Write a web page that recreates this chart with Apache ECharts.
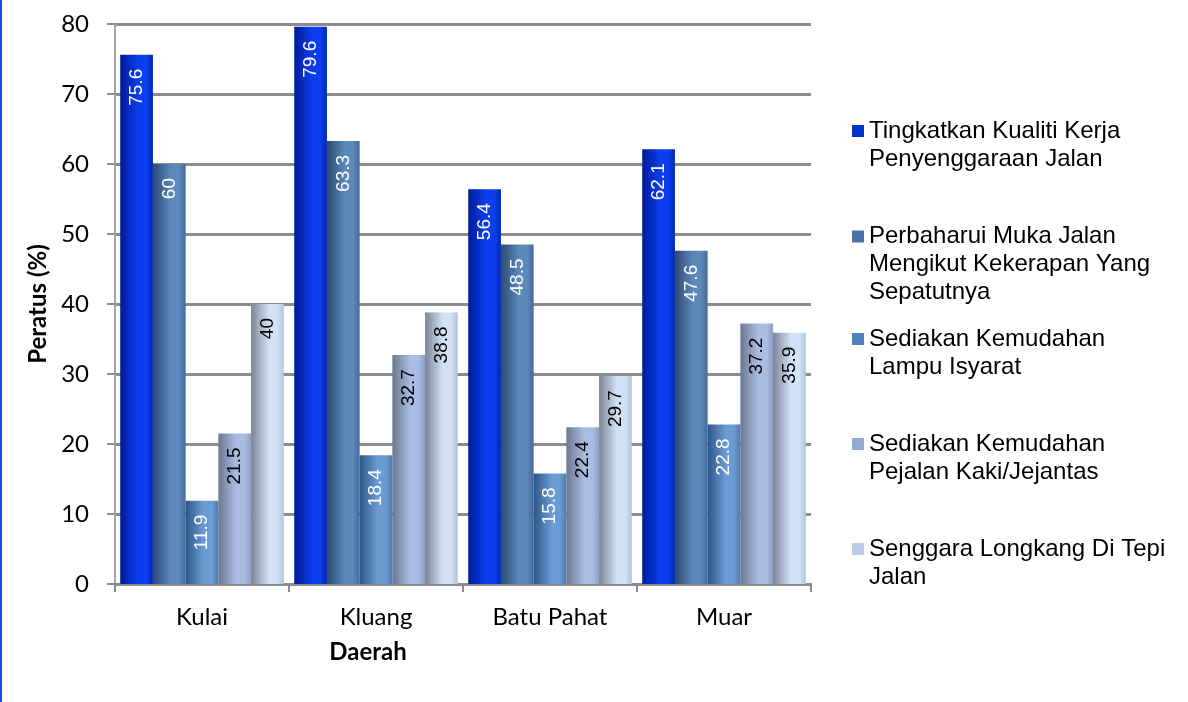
<!DOCTYPE html>
<html>
<head>
<meta charset="utf-8">
<script src="https://cdn.jsdelivr.net/npm/echarts@6/dist/echarts.min.js"></script>
<style>
  html, body { margin: 0; padding: 0; background: #fff; }
  #chart { width: 1188px; height: 702px; box-sizing: border-box; border-left: 2px solid #1f4fe0; }
</style>
</head>
<body>
<div id="chart"></div>
<script>
// data
const daerah = ["Kulai", "Kluang", "Batu Pahat", "Muar"];
const namaSiri = [
  "Tingkatkan Kualiti Kerja\nPenyenggaraan Jalan",
  "Perbaharui Muka Jalan\nMengikut Kekerapan Yang\nSepatutnya",
  "Sediakan Kemudahan\nLampu Isyarat",
  "Sediakan Kemudahan\nPejalan Kaki/Jejantas",
  "Senggara Longkang Di Tepi\nJalan"
];
const kualitiKerja = [75.6, 79.6, 56.4, 62.1];
const mukaJalan = [60, 63.3, 48.5, 47.6];
const lampuIsyarat = [11.9, 18.4, 15.8, 22.8];
const pejalanKaki = [21.5, 32.7, 22.4, 37.2];
const longkang = [40, 38.8, 29.7, 35.9];
const yTicks = [0, 10, 20, 30, 40, 50, 60, 70, 80];

const siriData = [kualitiKerja, mukaJalan, lampuIsyarat, pejalanKaki, longkang];

// warna: [legend, tepi kiri, tengah, tepi kanan]
const warna = [
  ["#0033cc", "#001c95", "#0c3ef0", "#0026b0"],
  ["#4a72a6", "#2a4a72", "#5c88ba", "#44699a"],
  ["#4f81bd", "#2c5688", "#6b9bd3", "#4d7cb3"],
  ["#96a9d0", "#6c7890", "#a9bde2", "#8e9fc2"],
  ["#b9cde5", "#7c8496", "#d2e2f6", "#b0c3dc"]
];
const warnaLabel = ["#fff", "#fff", "#fff", "#000", "#000"];

const fontArial = "'Liberation Sans', Arial, sans-serif";
const fontPaksi = "Lato, sans-serif";

const chart = echarts.init(document.getElementById("chart"));

const series = siriData.map((d, i) => ({
  name: namaSiri[i],
  type: "bar",
  data: d,
  barGap: "0%",
  barCategoryGap: "6%",
  itemStyle: {
    color: new echarts.graphic.LinearGradient(0, 0, 1, 0, [
      { offset: 0, color: warna[i][1] },
      { offset: 0.55, color: warna[i][2] },
      { offset: 0.8, color: warna[i][2] },
      { offset: 1, color: warna[i][3] }
    ])
  },
  label: {
    show: true,
    position: "insideTop",
    rotate: 90,
    align: "right",
    verticalAlign: "middle",
    distance: 14,
    color: warnaLabel[i],
    fontFamily: fontArial,
    fontSize: 19
  }
}));

// satu legend untuk setiap siri; baris kosong di atas supaya ikon sejajar baris pertama
const lh = 28;
const pusatIkon = [131, 236.5, 339, 444, 549];
const legends = namaSiri.map((n, i) => {
  const baris = n.split("\n").length;
  const H = (2 * baris - 1) * lh;
  return {
    data: [{ name: n, icon: "rect", itemStyle: { color: warna[i][0] } }],
    orient: "vertical",
    left: 850,
    top: pusatIkon[i] - H / 2,
    padding: 0,
    itemWidth: 12,
    itemHeight: 12,
    itemGap: 0,
    selectedMode: false,
    formatter: (name) => "\n".repeat(baris - 1) + name,
    textStyle: {
      fontFamily: fontArial,
      fontSize: 24,
      color: "#000",
      lineHeight: lh
    }
  };
});

const option = {
  animation: false,
  grid: { left: 113, right: 377, top: 24, bottom: 118, containLabel: false },
  legend: legends,
  xAxis: {
    type: "category",
    data: daerah,
    name: "Daerah",
    nameLocation: "middle",
    nameGap: 56,
    nameTextStyle: {
      fontFamily: fontPaksi,
      fontWeight: "bold",
      fontSize: 24,
      color: "#000",
      padding: [0, 190, 0, 0]
    },
    axisLine: { lineStyle: { color: "#8c8c8c", width: 2 } },
    axisTick: { show: true, length: 8, lineStyle: { color: "#8c8c8c", width: 2 } },
    axisLabel: {
      fontFamily: fontPaksi,
      fontSize: 24,
      color: "#000",
      margin: 21
    }
  },
  yAxis: {
    type: "value",
    min: yTicks[0],
    max: yTicks[yTicks.length - 1],
    interval: 10,
    name: "Peratus (%)",
    nameLocation: "middle",
    nameGap: 57,
    nameTextStyle: {
      fontFamily: fontPaksi,
      fontWeight: "bold",
      fontSize: 24,
      color: "#000"
    },
    axisLine: { show: true, lineStyle: { color: "#a6a6a6", width: 2 } },
    axisTick: { show: true, length: 8, lineStyle: { color: "#8c8c8c", width: 2 } },
    axisLabel: {
      fontFamily: fontPaksi,
      fontSize: 24,
      color: "#000",
      margin: 26
    },
    splitLine: { lineStyle: { color: "#8c8c8c", width: 3 } }
  },
  series: series
};

chart.setOption(option);
</script>
</body>
</html>
